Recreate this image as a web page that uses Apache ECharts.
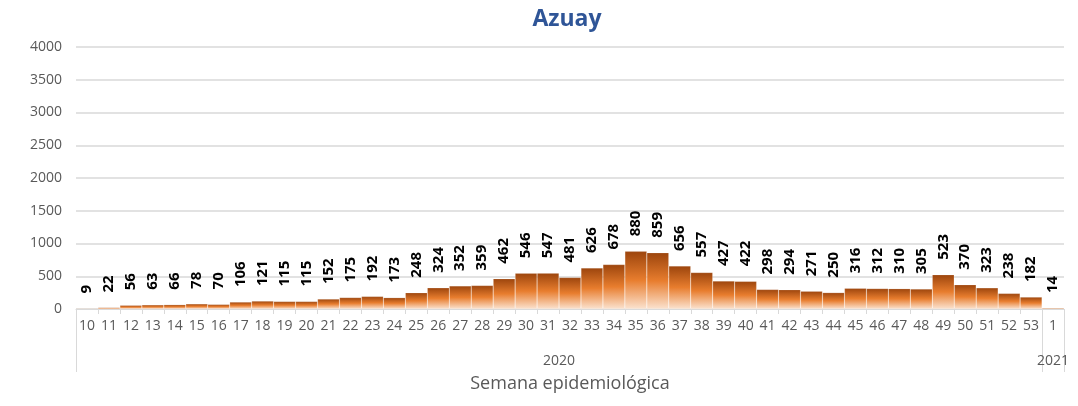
<!DOCTYPE html>
<html>
<head>
<meta charset="utf-8">
<title>Azuay</title>
<script src="https://cdn.jsdelivr.net/npm/echarts@6/dist/echarts.min.js"></script>
<style>
  html, body { margin: 0; padding: 0; background: #fff; }
  #chart { width: 1078px; height: 406px; }
</style>
</head>
<body>
<div id="chart"></div>
<script>
// semanas epidemiologicas (2020: 10-53, 2021: 1)
var semanas = ['10', '11', '12', '13', '14', '15', '16', '17', '18', '19', '20', '21', '22', '23', '24', '25', '26', '27', '28', '29', '30', '31', '32', '33', '34', '35', '36', '37', '38', '39', '40', '41', '42', '43', '44', '45', '46', '47', '48', '49', '50', '51', '52', '53', '1']
var casos = [9, 22, 56, 63, 66, 78, 70, 106, 121, 115, 115, 152, 175, 192, 173, 248, 324, 352, 359, 462, 546, 547, 481, 626, 678, 880, 859, 656, 557, 427, 422, 298, 294, 271, 250, 316, 312, 310, 305, 523, 370, 323, 238, 182, 14]
// grupos de años: nombre y numero de semanas
var anios = ['2020', '2021']
var semanasPorAnio = [44, 1]
var yTicks = [0, 500, 1000, 1500, 2000, 2500, 3000, 3500, 4000]

// limites y centros de cada grupo para el segundo nivel del eje
var limites = [0]
var centros = []
semanasPorAnio.forEach(function(n, i) {
  var ini = limites[limites.length - 1]
  centros.push(ini + n / 2)
  limites.push(ini + n)
})

var font = '"Open Sans", "Noto Sans", sans-serif'
var chart = echarts.init(document.getElementById('chart'))

chart.setOption({
  animation: false,
  title: {
    text: 'Azuay',
    left: 562,
    textAlign: 'center',
    top: 3,
    textStyle: { color: '#2f5597', fontSize: 23, fontWeight: 'bold', fontFamily: font }
  },
  grid: { left: 76, right: 14, top: 47, bottom: 97 },
  xAxis: [
    {
      type: 'category',
      data: semanas,
      axisLine: { lineStyle: { color: '#d9d9d9' } },
      axisTick: { show: true, length: 5, interval: 0, lineStyle: { color: '#d9d9d9' } },
      axisLabel: { interval: 0, color: '#595959', fontSize: 14, margin: 10, fontFamily: font }
    },
    {
      // segundo nivel: años
      type: 'value',
      position: 'bottom',
      min: 0,
      max: limites[limites.length - 1],
      axisLine: { show: false },
      splitLine: { show: false },
      axisTick: {
        show: true,
        length: 63,
        customValues: limites,
        lineStyle: { color: '#d9d9d9' }
      },
      axisLabel: {
        customValues: centros,
        margin: 45,
        color: '#595959',
        fontSize: 14,
        fontFamily: font,
        formatter: function(v) {
          return anios[centros.indexOf(v)]
        }
      },
      name: 'Semana epidemiológica',
      nameLocation: 'middle',
      nameGap: 66,
      nameTextStyle: { color: '#595959', fontSize: 18, fontFamily: font }
    }
  ],
  yAxis: {
    type: 'value',
    min: 0,
    max: yTicks[yTicks.length - 1],
    interval: yTicks[1] - yTicks[0],
    axisLine: { show: false },
    axisTick: { show: false },
    axisLabel: {
      color: '#595959',
      fontSize: 14,
      margin: 14,
      fontFamily: font,
      formatter: function(v) { return String(v) }
    },
    splitLine: { lineStyle: { color: '#d9d9d9', width: 1.5 } }
  },
  series: [
    {
      type: 'bar',
      data: casos,
      xAxisIndex: 0,
      barCategoryGap: 0,
      itemStyle: {
        borderColor: 'rgba(255,255,255,0.3)',
        borderWidth: 0.5,
        color: new echarts.graphic.LinearGradient(0, 0, 0, 1, [
          { offset: 0, color: '#9c450d' },
          { offset: 0.5, color: '#e87d2e' },
          { offset: 1, color: '#fbe3d0' }
        ])
      },
      label: {
        show: true,
        position: 'top',
        rotate: 90,
        align: 'left',
        verticalAlign: 'middle',
        distance: 15,
        color: '#000',
        fontSize: 15,
        fontWeight: 'bold',
        fontFamily: font
      }
    }
  ]
})
</script>
</body>
</html>
